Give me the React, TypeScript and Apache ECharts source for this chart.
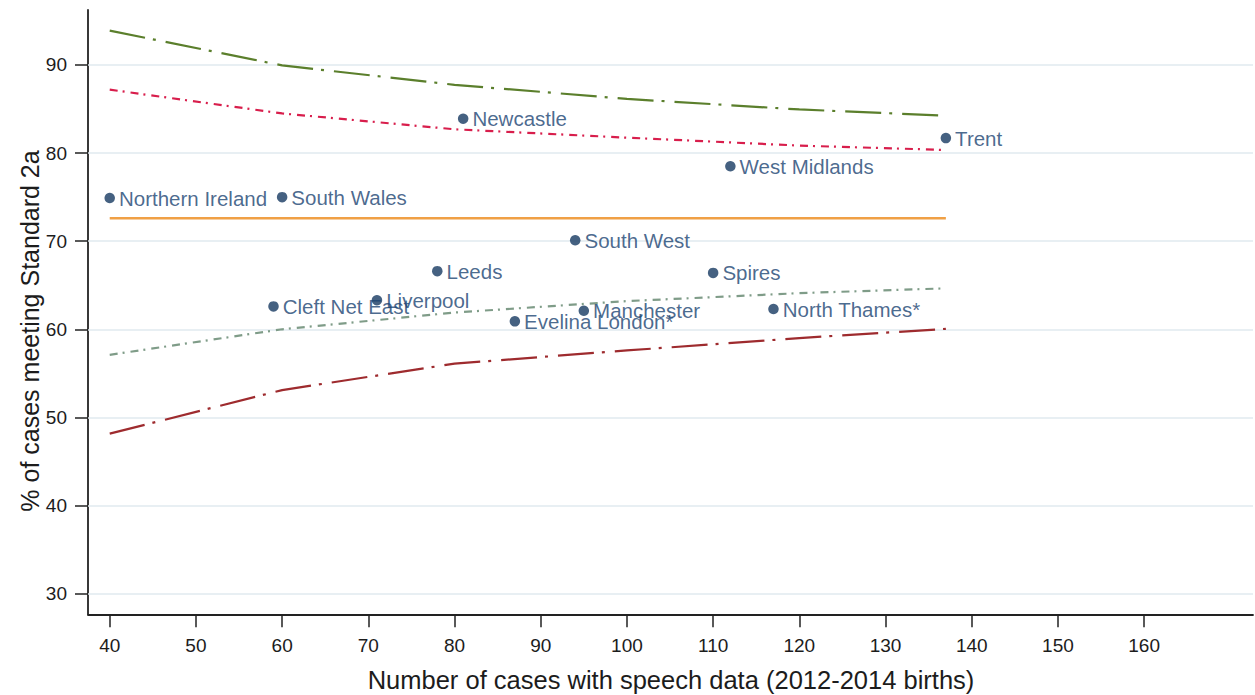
import React, { useEffect, useRef } from "react";
import * as echarts from "echarts";

const regions = [
  "Northern Ireland",
  "South Wales",
  "Newcastle",
  "Trent",
  "West Midlands",
  "South West",
  "Leeds",
  "Spires",
  "Cleft Net East",
  "Liverpool",
  "Manchester",
  "Evelina London*",
  "North Thames*",
];
const cases = [40, 60, 81, 137, 112, 94, 78, 110, 59, 71, 95, 87, 117];
const percents = [74.9, 75.0, 83.9, 81.7, 78.5, 70.1, 66.6, 66.4, 62.6, 63.3, 62.1, 60.9, 62.3];

const limitN = [40, 60, 80, 100, 120, 137];
const upper998 = [93.9, 89.95, 87.75, 86.15, 84.95, 84.25];
const upper95 = [87.2, 84.5, 82.7, 81.75, 80.85, 80.35];
const lower95 = [57.1, 60.0, 61.9, 63.2, 64.1, 64.65];
const lower998 = [48.15, 53.1, 56.1, 57.6, 59.0, 60.05];

const meanN = [40, 137];
const meanValue = 72.6;

const xTicks = [40, 50, 60, 70, 80, 90, 100, 110, 120, 130, 140, 150, 160];
const yTicks = [30, 40, 50, 60, 70, 80, 90];

const xTitle = "Number of cases with speech data (2012-2014 births)";
const yTitle = "% of cases meeting Standard 2a";

const FONT = "Arial, 'Liberation Sans', sans-serif";

export default function App() {
  const ref = useRef<HTMLDivElement>(null);

  useEffect(() => {
    if (!ref.current) return;
    const chart = echarts.init(ref.current, undefined, { renderer: "svg" });

    const limitSeries = (name: string, vals: number[], color: string, dash: number[]) => ({
      name,
      type: "line",
      data: limitN.map((n, i) => [n, vals[i]]),
      symbol: "none",
      showSymbol: false,
      z: 3,
      lineStyle: { color, width: 2.2, type: dash },
    });

    chart.setOption({
      animation: false,
      grid: { left: 88, top: 10, right: 2, bottom: 80.7, containLabel: false },
      xAxis: {
        type: "value",
        min: 37.48,
        max: 172.63,
        axisLine: { show: true, onZero: false, lineStyle: { color: "#222", width: 1.8 } },
        axisTick: {
          show: true,
          customValues: xTicks,
          length: 13,
          inside: false,
          lineStyle: { color: "#222", width: 1.5 },
        },
        axisLabel: {
          customValues: xTicks,
          margin: 22,
          fontSize: 19,
          color: "#1c1c1c",
          fontFamily: FONT,
        },
        splitLine: { show: false },
      },
      yAxis: {
        type: "value",
        min: 27.65,
        max: 96.24,
        axisLine: { show: true, onZero: false, lineStyle: { color: "#222", width: 1.8 } },
        axisTick: {
          show: true,
          customValues: yTicks,
          length: 13,
          inside: false,
          lineStyle: { color: "#222", width: 1.5 },
        },
        axisLabel: {
          customValues: yTicks,
          margin: 21,
          fontSize: 19,
          color: "#1c1c1c",
          fontFamily: FONT,
        },
        splitLine: { show: false },
      },
      series: [
        {
          name: "mean",
          type: "line",
          data: meanN.map((n) => [n, meanValue]),
          symbol: "none",
          showSymbol: false,
          z: 2,
          lineStyle: { color: "#f0a045", width: 2.5, type: "solid" },
          markLine: {
            silent: true,
            symbol: ["none", "none"],
            label: { show: false },
            z: 1,
            lineStyle: { color: "#e1eaef", width: 1.5, type: "solid" },
            data: yTicks.map((v) => ({ yAxis: v })),
          },
        },
        limitSeries("upper 99.8%", upper998, "#5b7f2c", [36, 8, 3, 10]),
        limitSeries("upper 95%", upper95, "#d81e4c", [8, 5, 2, 6]),
        limitSeries("lower 95%", lower95, "#7f9c88", [8, 5, 2, 6]),
        limitSeries("lower 99.8%", lower998, "#9e2b2e", [36, 8, 3, 10]),
        {
          name: "regions",
          type: "scatter",
          z: 5,
          symbol: "circle",
          symbolSize: 10.5,
          itemStyle: { color: "#173a61" },
          data: regions.map((r, i) => ({ name: r, value: [cases[i], percents[i]] })),
          label: {
            show: true,
            position: "right",
            distance: 4,
            formatter: (p: any) => p.name,
            fontSize: 20.5,
            color: "#1b4472",
            fontFamily: FONT,
          },
        },
      ],
      graphic: [
        {
          type: "text",
          x: 671,
          y: 680,
          style: {
            text: xTitle,
            fill: "#1c1c1c",
            fontSize: 25.5,
            fontFamily: FONT,
            align: "center",
            verticalAlign: "middle",
          },
        },
        {
          type: "text",
          x: 30,
          y: 331,
          rotation: Math.PI / 2,
          style: {
            text: yTitle,
            fill: "#1c1c1c",
            fontSize: 25,
            fontFamily: FONT,
            align: "center",
            verticalAlign: "middle",
          },
        },
      ],
    });

    return () => chart.dispose();
  }, []);

  return (
    <div
      ref={ref}
      style={{ position: "fixed", left: 0, top: 0, width: 1255, height: 695, background: "#fff" }}
    />
  );
}
